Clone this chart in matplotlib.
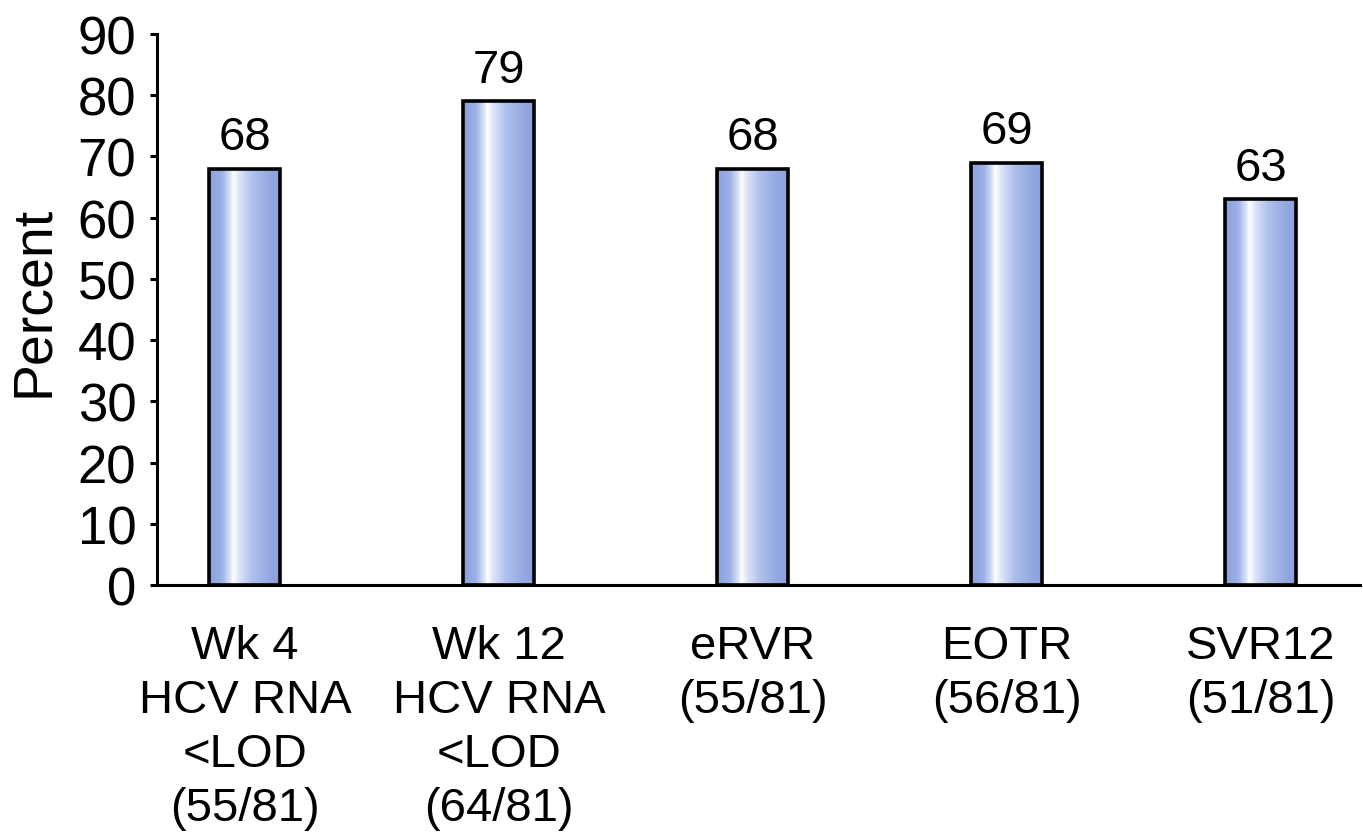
import matplotlib
matplotlib.use("Agg")
import matplotlib.pyplot as plt
import numpy as np
from matplotlib.colors import LinearSegmentedColormap

plt.rcParams['font.family'] = ['Liberation Sans', 'DejaVu Sans']

categories = ["Wk 4\nHCV RNA\n<LOD\n(55/81)",
              "Wk 12\nHCV RNA\n<LOD\n(64/81)",
              "eRVR\n(55/81)",
              "EOTR\n(56/81)",
              "SVR12\n(51/81)"]
values = [68, 79, 68, 69, 63]
yticks = [0, 10, 20, 30, 40, 50, 60, 70, 80, 90]

fig = plt.figure(figsize=(13.63, 8.37), dpi=100)
ax = fig.add_axes([157/1363, 1-586/837, (1360-157)/1363, (586-35)/837])

x = np.arange(len(values))
width = 0.28
bars = ax.bar(x, values, width=width, facecolor='none', edgecolor='black',
              linewidth=2.6, zorder=3)

cmap = LinearSegmentedColormap.from_list('g', [
    (0.0, '#8BA1DE'), (0.18, '#9DB1E6'), (0.29, '#D8E1F7'), (0.34, '#FFFFFF'),
    (0.42, '#DCE4F7'), (0.6, '#AFC0EC'), (0.85, '#93A8E0'), (1.0, '#8BA1DE')])
grad = np.linspace(0, 1, 256).reshape(1, -1)
for b in bars:
    x0, y0 = b.get_x(), b.get_y()
    w, h = b.get_width(), b.get_height()
    im = ax.imshow(grad, cmap=cmap, aspect='auto', extent=[x0, x0 + w, y0, y0 + h],
                   zorder=2, interpolation='bilinear')
    im.set_clip_path(b)

for xi, v in zip(x, values):
    ax.annotate(str(v), (xi, v), xytext=(0, 7), textcoords='offset points',
                ha='center', va='bottom', fontsize=34)

ax.set_xlim(-0.346, 4.39)
ax.set_ylim(0, 90)
ax.set_yticks(yticks)
ax.set_yticklabels([str(t) for t in yticks], fontsize=38)
ax.set_xticks(x)
ax.set_xticklabels(categories, fontsize=34, linespacing=1.3)
ax.tick_params(axis='x', length=0, pad=28)
ax.tick_params(axis='y', direction='out', length=5, width=2.2, pad=10)
for s in ['top', 'right']:
    ax.spines[s].set_visible(False)
for s in ['left', 'bottom']:
    ax.spines[s].set_linewidth(2.2)

fig.text(34/1363, 1-301/837, "Percent", rotation=90, ha='center', va='center', fontsize=40)

fig.savefig("out.png", dpi=100)
